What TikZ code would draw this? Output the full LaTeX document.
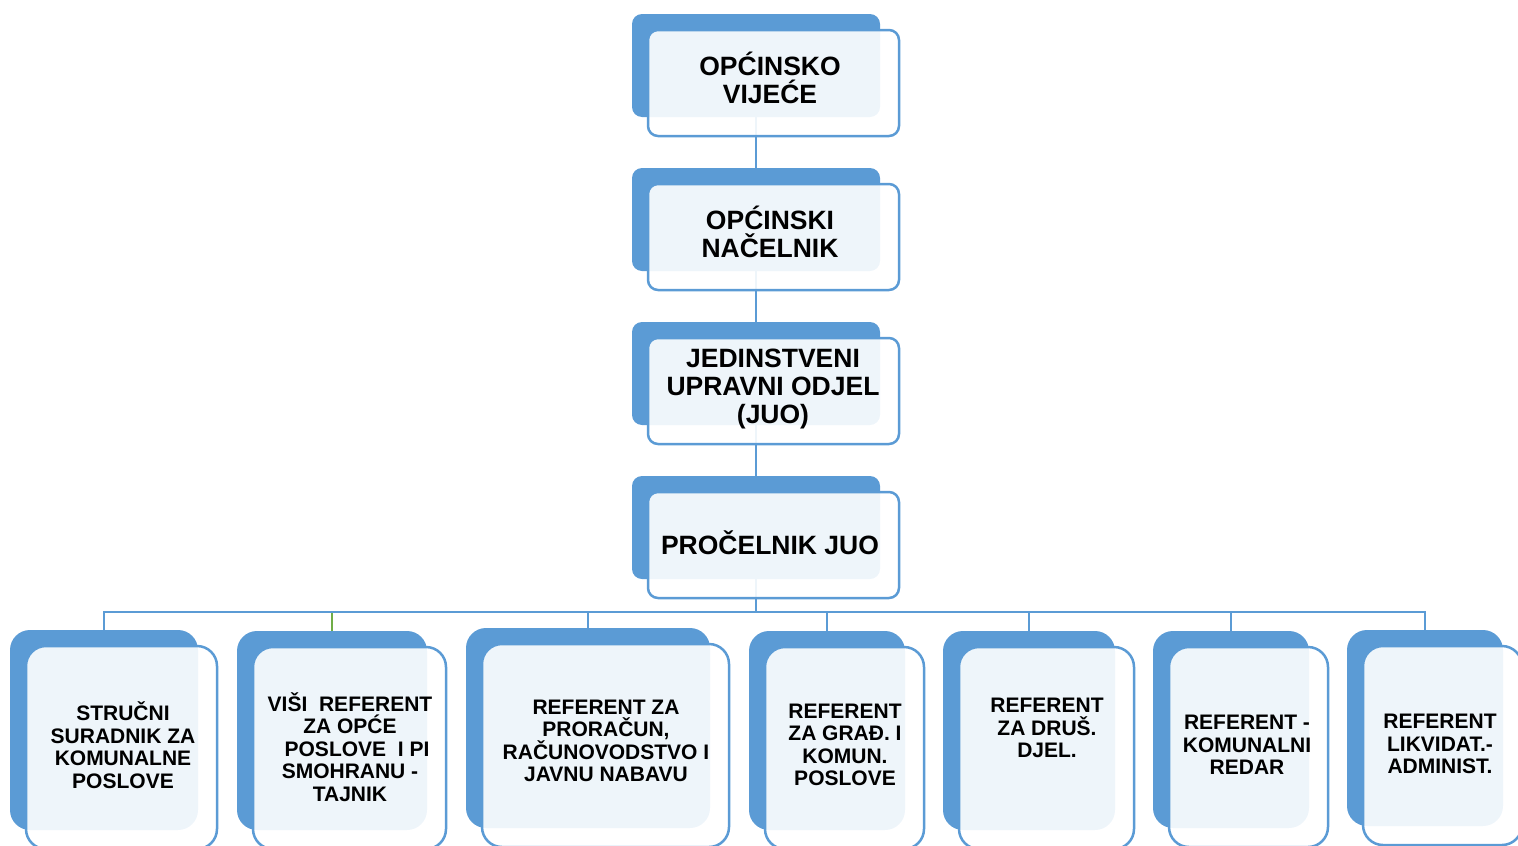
\documentclass[tikz,border=0pt]{standalone}
\usepackage{fontspec}
\setmainfont{Liberation Sans}
\usetikzlibrary{backgrounds}
\definecolor{orgblue}{HTML}{5B9BD5}
\definecolor{orggreen}{HTML}{70AD47}

% one unit: blue card, outlined card on top, text
\newcommand{\orgunit}[9]{%
  \node[backbox, #6, minimum width=#4, minimum height=#5] (#1B) at (#2,#3) {};
  \node[frontbox, #6, minimum width=#4+3, minimum height=#5+3] (#1F) at (#2+17.5,#3+17.5) {};
  \node[unittext, #6] (#1) at (#7,#8) {#9};
}

\begin{document}
\begin{tikzpicture}[
            x = 1pt, y = -1pt,
            backbox/.style = {fill = orgblue, inner sep = 0pt},
            frontbox/.style = {draw = orgblue, line width = 2.5pt, fill = white, fill opacity = 0.9, inner sep = 0pt},
            unittext/.style = {align = center, inner sep = 0pt},
            upper/.style = {rounded corners = 10pt, font = \bfseries\fontsize{26.5}{28}\selectfont},
            lower/.style = {rounded corners = 20pt, font = \bfseries\fontsize{21}{22.5}\selectfont},
            link/.style = {draw = orgblue, line width = 2.5pt}
            ]
            \useasboundingbox (0,0) rectangle (1518,846);
            \clip (0,0) rectangle (1518,846);

            \orgunit{vijece}{756}{65.5}{248}{103}{upper}{770}{78}{OPĆINSKO\\VIJEĆE}
            \orgunit{nacelnik}{756}{219.5}{248}{103}{upper}{770}{232}{OPĆINSKI\\NAČELNIK}
            \orgunit{juo}{756}{373.5}{248}{103}{upper}{773}{389}{JEDINSTVENI\\UPRAVNI ODJEL\\(JUO)}
            \orgunit{procelnik}{756}{527.5}{248}{103}{upper}{770}{543}{PROČELNIK JUO}

            \orgunit{strucni}{104}{730}{188}{200}{lower}{123}{745}{STRUČNI\\SURADNIK ZA\\KOMUNALNE\\POSLOVE}
            \orgunit{visi}{332}{730.5}{190}{199}{lower}{350}{747}{VIŠI\ \ REFERENT\\ZA OPĆE\\\hspace{14pt}POSLOVE\ \ I PI\\SMOHRANU -\\TAJNIK}
            \orgunit{proracun}{588}{728}{244}{200}{lower}{606}{741}{REFERENT ZA\\PRORAČUN,\\RAČUNOVODSTVO I\\JAVNU NABAVU}
            \orgunit{gradjenje}{827}{730.5}{156}{199}{lower}{845}{745}{REFERENT\\ZA GRAĐ. I\\KOMUN.\\POSLOVE}
            \orgunit{drustvene}{1029}{730.5}{172}{199}{lower}{1047}{728}{REFERENT\\ZA DRUŠ.\\DJEL.}
            \orgunit{redar}{1231}{729.5}{156}{197}{lower}{1247}{745}{REFERENT -\\KOMUNALNI\\REDAR}
            \orgunit{likvidator}{1425}{728}{156}{196}{lower}{1440}{744}{REFERENT\\LIKVIDAT.-\\ADMINIST.}

            \begin{scope}[on background layer]
              \coordinate (bus) at (756,612);
              \draw[link] (vijeceB) -- (nacelnikB);
              \draw[link] (nacelnikB) -- (juoB);
              \draw[link] (juoB) -- (procelnikB);
              \draw[link, draw = orggreen] (procelnikB.south) -- (bus) -| (visiB.north);
              \foreach \c in {strucni, proracun, gradjenje, drustvene, redar, likvidator}
                \draw[link] (procelnikB.south) -- (bus) -| (\c B.north);
            \end{scope}
          \end{tikzpicture}
\end{document}
